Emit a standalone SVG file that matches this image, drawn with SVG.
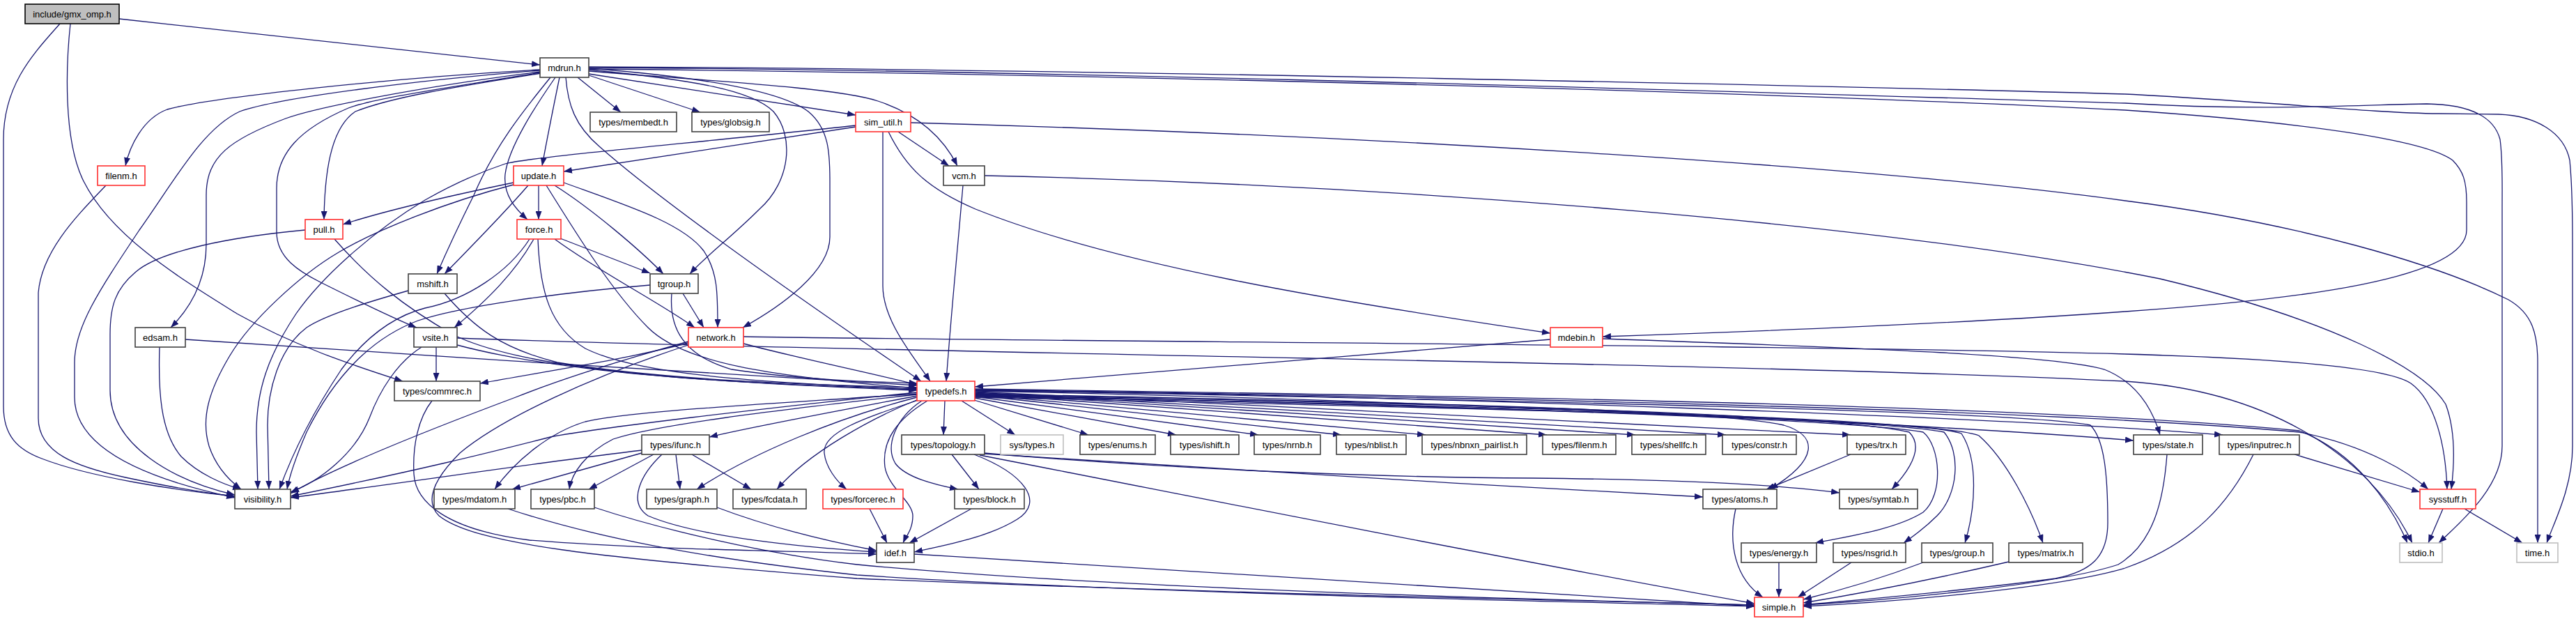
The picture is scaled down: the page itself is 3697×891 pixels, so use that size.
<svg xmlns="http://www.w3.org/2000/svg" width="3697" height="891" viewBox="0 0 3697 891">
<style>
.e path{fill:none;stroke:#191970;stroke-width:1.3;marker-end:url(#ah)}
.n rect{fill:#fff;stroke:#404040;stroke-width:1.6}
.r rect{fill:#fff;stroke:#ff3030;stroke-width:1.6}
.g rect{fill:#fff;stroke:#bfbfbf;stroke-width:1.6}
.root rect{fill:#bfbfbf;stroke:#000;stroke-width:1.6}
text{font-family:"Liberation Sans",Arial,sans-serif;font-size:13px;fill:#000;text-anchor:middle}
</style>
<defs>
<marker id="ah" viewBox="0 0 12 9" refX="12" refY="4.5" markerWidth="12" markerHeight="9" markerUnits="userSpaceOnUse" orient="auto"><path d="M0,0 L12,4.5 L0,9 Z" fill="#191970"/></marker>
</defs>
<rect width="3697" height="891" fill="#fff"/>
<g id="edges" class="e">
<path d="M171,27 L775,93"/>
<path d="M86,34 C50,75 5,120 5,200 L5,583 C5,625 25,645 60,658 C130,685 250,703 337,712"/>
<path d="M101,34 C95,90 90,200 120,260 C160,340 260,400 340,450 C420,495 500,522 578,547"/>
<path d="M775,100 C560,112 300,140 240,157 C205,170 186,210 180,238"/>
<path d="M775,101 C600,115 400,140 344,160 C290,185 250,260 200,330 C140,420 107,470 107,520 L107,570 C107,640 200,685 337,714"/>
<path d="M775,103 C600,125 450,155 410,170 C330,200 296,225 296,280 L296,350 C296,400 275,440 245,470"/>
<path d="M776,104 C650,125 540,140 500,155 C430,185 397,220 397,270 L397,333 C397,370 430,390 460,405 C510,430 560,455 598,470"/>
<path d="M777,105 C650,125 560,140 510,160 C480,180 466,230 465,315"/>
<path d="M803,111 C795,150 785,200 778,238"/>
<path d="M797,111 C770,150 730,210 725,250 C722,280 740,300 757,315"/>
<path d="M790,111 C750,160 710,210 680,280 C655,330 637,370 627,393"/>
<path d="M829,111 L891,161"/>
<path d="M845,108 L1005,161"/>
<path d="M845,106 L1228,165"/>
<path d="M845,102 C1000,115 1200,125 1260,145 C1320,165 1355,200 1374,238"/>
<path d="M845,100 C1000,115 1080,130 1110,160 C1140,195 1135,260 1090,300 C1050,340 1010,370 990,393"/>
<path d="M845,98 C1000,110 1120,130 1160,160 C1190,185 1191,220 1191,260 L1191,340 C1191,390 1120,440 1066,470"/>
<path d="M812,111 C815,150 825,180 860,210 C950,290 1150,430 1322,547"/>
<path d="M845,99 C1500,105 2500,130 3050,158 C3300,175 3480,200 3520,230 C3535,245 3540,260 3540,290 L3540,330 C3540,400 3300,430 3050,447 C2800,465 2450,478 2300,483"/>
<path d="M845,97 C1500,100 2600,135 3050,148 C3250,160 3400,150 3483,149 C3550,150 3580,170 3588,200 C3592,230 3591,260 3591,300 L3591,640 C3591,700 3530,750 3500,779"/>
<path d="M845,96 C1500,98 2700,125 3050,135 C3250,145 3400,162 3500,163 L3586,164 C3640,166 3680,190 3688,230 C3691,260 3692,300 3692,350 L3692,640 C3692,700 3665,750 3655,779"/>
<path d="M1228,182 L809,246"/>
<path d="M1228,180 C1000,205 760,225 725,235 C680,250 640,270 610,287 C530,335 460,400 425,450 C385,510 368,560 368,620 L370,702"/>
<path d="M1289,189 L1362,238"/>
<path d="M1267,189 L1267,410 C1267,460 1310,510 1335,547"/>
<path d="M1275,189 C1300,240 1330,270 1400,300 C1600,380 1900,430 2225,478"/>
<path d="M1307,176 C2000,195 2700,240 3050,288 C3300,320 3500,380 3600,430 C3635,450 3642,480 3642,520 L3642,779"/>
<path d="M737,262 C650,280 560,300 492,322"/>
<path d="M737,265 C640,290 540,330 486,362 C430,395 360,460 330,510 C300,560 288,600 300,640 C310,670 330,690 346,702"/>
<path d="M773,266 L773,315"/>
<path d="M758,266 C720,310 670,360 638,393"/>
<path d="M796,266 C850,300 920,360 952,393"/>
<path d="M809,262 C900,295 980,320 1010,360 C1030,390 1030,420 1030,470"/>
<path d="M784,266 C830,340 880,420 930,470 C980,520 1100,540 1316,557"/>
<path d="M804,342 L933,392"/>
<path d="M796,343 C860,390 940,430 997,470"/>
<path d="M766,343 C740,390 700,430 652,470"/>
<path d="M772,343 C775,420 790,470 840,500 C920,540 1100,548 1316,559"/>
<path d="M760,343 C730,390 670,430 610,442 C560,455 520,490 490,530 C450,590 420,650 401,702"/>
<path d="M438,330 C330,340 230,360 195,390 C165,415 158,440 158,480 L158,560 C158,640 250,690 337,710"/>
<path d="M480,343 C530,400 580,440 650,480 C750,530 1000,550 1316,558"/>
<path d="M586,417 C540,430 470,450 440,470 C400,500 384,560 384,610 L386,702"/>
<path d="M638,421 C680,470 720,500 800,520 C950,545 1150,552 1316,556"/>
<path d="M964,421 C960,470 980,510 1050,530 C1150,545 1250,548 1317,550"/>
<path d="M980,421 L1010,470"/>
<path d="M933,409 C800,420 660,440 600,460 C520,490 470,560 440,620 C425,655 415,685 412,702"/>
<path d="M605,498 C570,520 545,560 530,600 C510,650 460,690 417,706"/>
<path d="M626,498 L626,547"/>
<path d="M656,495 C750,520 900,545 1316,560"/>
<path d="M656,485 C1200,505 2500,520 3050,547 C3250,560 3400,650 3462,779"/>
<path d="M988,492 C900,515 800,530 689,550"/>
<path d="M988,490 C880,520 790,550 740,570 C620,615 480,670 417,708"/>
<path d="M1067,493 C1150,515 1250,535 1316,552"/>
<path d="M1067,483 C1500,490 2600,495 3050,508 C3300,515 3430,530 3460,550 C3495,575 3510,640 3512,702"/>
<path d="M988,495 C850,540 720,600 660,650 C620,690 610,720 630,740 C680,780 850,800 1230,830 C1700,850 2200,860 2518,868"/>
<path d="M229,498 C227,560 230,620 260,655 C285,680 320,695 346,702"/>
<path d="M266,487 C600,510 1000,535 1316,553"/>
<path d="M152,266 C110,310 60,360 55,420 L55,600 C55,650 110,670 180,685 C250,700 300,708 337,712"/>
<path d="M620,575 C600,600 592,640 594,680 C596,720 640,760 760,775 C950,790 1150,790 1258,795"/>
<path d="M1382,266 C1375,350 1365,450 1358,547"/>
<path d="M1413,252 C2000,265 2700,320 3100,400 C3350,460 3480,530 3510,580 C3525,620 3522,670 3518,702"/>
<path d="M2225,487 C2000,505 1700,530 1399,555"/>
<path d="M2300,486 C2700,500 2950,510 3020,530 C3070,550 3090,590 3100,624"/>
<path d="M1356,575 L1354,624"/>
<path d="M1380,575 L1457,624"/>
<path d="M1398,574 L1562,624"/>
<path d="M1399,571 L1688,624"/>
<path d="M1399,569 L1806,624"/>
<path d="M1399,567 L1925,624"/>
<path d="M1399,566 L2046,624"/>
<path d="M1399,565 L2220,624"/>
<path d="M1399,564 L2347,624"/>
<path d="M1399,563 L2477,624"/>
<path d="M1399,562 L2656,624"/>
<path d="M1399,561 C2000,572 2800,610 3062,632"/>
<path d="M1399,560 C2000,566 2900,600 3190,624"/>
<path d="M1399,559 C2100,570 2900,585 3300,620 C3400,640 3460,680 3485,702"/>
<path d="M1399,558 C2100,568 2900,580 3300,618 C3380,650 3430,720 3455,779"/>
<path d="M1399,565 C1900,575 2450,585 2560,610 C2610,625 2610,660 2540,702"/>
<path d="M1399,566 C2000,578 2600,590 2740,620 C2760,640 2745,670 2715,702"/>
<path d="M1399,567 C2000,580 2650,600 2760,620 C2785,640 2790,710 2760,735 C2720,760 2650,770 2605,779"/>
<path d="M1399,568 C2000,580 2700,600 2790,620 C2815,650 2810,710 2780,740 C2760,760 2745,770 2732,779"/>
<path d="M1399,569 C2100,580 2750,600 2815,622 C2840,660 2835,730 2820,779"/>
<path d="M1399,570 C2100,585 2780,600 2840,625 C2880,660 2915,730 2932,779"/>
<path d="M1399,560 C2200,575 2900,590 3000,610 C3020,630 3025,680 3025,750 C3025,800 3000,820 2950,830 C2800,850 2650,862 2588,868"/>
<path d="M1331,575 C1290,600 1265,630 1270,670 C1275,700 1310,720 1310,740 C1310,760 1300,770 1296,779"/>
<path d="M1323,575 C1285,600 1270,640 1285,665 C1300,685 1340,695 1375,702"/>
<path d="M1316,568 C1200,590 1080,612 1018,627"/>
<path d="M1316,565 C1100,580 900,590 840,605 C790,620 740,660 710,702"/>
<path d="M1316,566 C1100,590 940,610 880,630 C840,650 820,680 817,702"/>
<path d="M1316,570 C1200,600 1080,650 1000,702"/>
<path d="M1318,573 C1250,600 1160,650 1115,702"/>
<path d="M1318,574 C1240,600 1180,620 1183,650 C1185,670 1200,690 1215,702"/>
<path d="M1316,563 C1100,585 850,615 790,627 C700,650 600,675 417,712"/>
<path d="M921,646 C800,660 600,690 417,714"/>
<path d="M921,650 L735,702"/>
<path d="M938,652 L845,702"/>
<path d="M970,652 L976,702"/>
<path d="M993,652 L1078,702"/>
<path d="M950,652 C920,680 900,720 930,740 C1000,770 1150,785 1258,792"/>
<path d="M729,730 C850,770 1000,800 1230,825 C1600,850 2200,862 2518,870"/>
<path d="M853,728 C950,760 1100,795 1230,810 C1600,845 2200,860 2518,868"/>
<path d="M1029,728 C1100,755 1180,775 1258,790"/>
<path d="M1366,652 L1405,702"/>
<path d="M1398,652 C1470,680 1500,720 1460,745 C1420,770 1360,782 1312,792"/>
<path d="M1412,651 C1700,670 2100,695 2444,713"/>
<path d="M1412,650 C1700,675 2000,685 2200,686 C2400,688 2550,695 2640,707"/>
<path d="M1406,653 C1700,710 2200,810 2518,866"/>
<path d="M1394,730 L1305,779"/>
<path d="M1248,730 L1273,779"/>
<path d="M1312,795 C1800,825 2300,855 2518,870"/>
<path d="M2491,730 C2480,780 2490,830 2530,857"/>
<path d="M2656,652 L2535,702"/>
<path d="M2553,807 L2553,857"/>
<path d="M2657,807 L2580,857"/>
<path d="M2760,807 C2700,830 2650,845 2588,860"/>
<path d="M2883,806 C2780,830 2680,850 2588,865"/>
<path d="M3110,652 C3105,720 3090,780 3040,810 C2950,840 2700,862 2588,868"/>
<path d="M3234,652 C3200,720 3150,780 3050,815 C2950,845 2700,865 2588,870"/>
<path d="M3293,652 L3473,706"/>
<path d="M3506,730 L3485,779"/>
<path d="M3537,730 L3620,779"/>
</g>
<g id="gmx_omp" class="root"><rect x="36" y="6" width="135" height="28"/><text x="103.5" y="24.5">include/gmx_omp.h</text></g>
<g id="mdrun" class="n"><rect x="775" y="83" width="70" height="28"/><text x="810" y="101.5">mdrun.h</text></g>
<g id="membedt" class="n"><rect x="847" y="161" width="124" height="28"/><text x="909" y="179.5">types/membedt.h</text></g>
<g id="globsig" class="n"><rect x="993" y="161" width="111" height="28"/><text x="1048.5" y="179.5">types/globsig.h</text></g>
<g id="sim_util" class="r"><rect x="1228" y="161" width="79" height="28"/><text x="1267.5" y="179.5">sim_util.h</text></g>
<g id="filenm" class="r"><rect x="140" y="238" width="68" height="28"/><text x="174" y="256.5">filenm.h</text></g>
<g id="update" class="r"><rect x="737" y="238" width="72" height="28"/><text x="773" y="256.5">update.h</text></g>
<g id="vcm" class="n"><rect x="1354" y="238" width="59" height="28"/><text x="1383.5" y="256.5">vcm.h</text></g>
<g id="pull" class="r"><rect x="438" y="315" width="54" height="28"/><text x="465" y="333.5">pull.h</text></g>
<g id="force" class="r"><rect x="742" y="315" width="63" height="28"/><text x="773.5" y="333.5">force.h</text></g>
<g id="mshift" class="n"><rect x="586" y="393" width="70" height="28"/><text x="621" y="411.5">mshift.h</text></g>
<g id="tgroup" class="n"><rect x="933" y="393" width="69" height="28"/><text x="967.5" y="411.5">tgroup.h</text></g>
<g id="edsam" class="n"><rect x="194" y="470" width="72" height="28"/><text x="230" y="488.5">edsam.h</text></g>
<g id="vsite" class="n"><rect x="594" y="470" width="62" height="28"/><text x="625" y="488.5">vsite.h</text></g>
<g id="network" class="r"><rect x="988" y="470" width="79" height="28"/><text x="1027.5" y="488.5">network.h</text></g>
<g id="mdebin" class="r"><rect x="2225" y="470" width="75" height="28"/><text x="2262.5" y="488.5">mdebin.h</text></g>
<g id="commrec" class="n"><rect x="566" y="547" width="123" height="28"/><text x="627.5" y="565.5">types/commrec.h</text></g>
<g id="typedefs" class="r"><rect x="1316" y="547" width="83" height="28"/><text x="1357.5" y="565.5">typedefs.h</text></g>
<g id="ifunc" class="n"><rect x="921" y="624" width="97" height="28"/><text x="969.5" y="642.5">types/ifunc.h</text></g>
<g id="topology" class="n"><rect x="1294" y="624" width="119" height="28"/><text x="1353.5" y="642.5">types/topology.h</text></g>
<g id="systypes" class="g"><rect x="1436" y="624" width="90" height="28"/><text x="1481" y="642.5">sys/types.h</text></g>
<g id="enums" class="n"><rect x="1550" y="624" width="108" height="28"/><text x="1604" y="642.5">types/enums.h</text></g>
<g id="ishift" class="n"><rect x="1680" y="624" width="98" height="28"/><text x="1729" y="642.5">types/ishift.h</text></g>
<g id="nrnb" class="n"><rect x="1800" y="624" width="95" height="28"/><text x="1847.5" y="642.5">types/nrnb.h</text></g>
<g id="nblist" class="n"><rect x="1918" y="624" width="100" height="28"/><text x="1968" y="642.5">types/nblist.h</text></g>
<g id="nbnxn" class="n"><rect x="2041" y="624" width="150" height="28"/><text x="2116" y="642.5">types/nbnxn_pairlist.h</text></g>
<g id="tfilenm" class="n"><rect x="2214" y="624" width="105" height="28"/><text x="2266.5" y="642.5">types/filenm.h</text></g>
<g id="shellfc" class="n"><rect x="2342" y="624" width="106" height="28"/><text x="2395" y="642.5">types/shellfc.h</text></g>
<g id="constr" class="n"><rect x="2472" y="624" width="106" height="28"/><text x="2525" y="642.5">types/constr.h</text></g>
<g id="trx" class="n"><rect x="2651" y="624" width="84" height="28"/><text x="2693" y="642.5">types/trx.h</text></g>
<g id="state" class="n"><rect x="3062" y="624" width="99" height="28"/><text x="3111.5" y="642.5">types/state.h</text></g>
<g id="inputrec" class="n"><rect x="3185" y="624" width="115" height="28"/><text x="3242.5" y="642.5">types/inputrec.h</text></g>
<g id="visibility" class="n"><rect x="337" y="702" width="80" height="28"/><text x="377" y="720.5">visibility.h</text></g>
<g id="mdatom" class="n"><rect x="623" y="702" width="116" height="28"/><text x="681" y="720.5">types/mdatom.h</text></g>
<g id="pbc" class="n"><rect x="762" y="702" width="91" height="28"/><text x="807.5" y="720.5">types/pbc.h</text></g>
<g id="graph" class="n"><rect x="928" y="702" width="101" height="28"/><text x="978.5" y="720.5">types/graph.h</text></g>
<g id="fcdata" class="n"><rect x="1052" y="702" width="105" height="28"/><text x="1104.5" y="720.5">types/fcdata.h</text></g>
<g id="forcerec" class="r"><rect x="1181" y="702" width="115" height="28"/><text x="1238.5" y="720.5">types/forcerec.h</text></g>
<g id="block" class="n"><rect x="1370" y="702" width="100" height="28"/><text x="1420" y="720.5">types/block.h</text></g>
<g id="atoms" class="n"><rect x="2444" y="702" width="106" height="28"/><text x="2497" y="720.5">types/atoms.h</text></g>
<g id="symtab" class="n"><rect x="2640" y="702" width="112" height="28"/><text x="2696" y="720.5">types/symtab.h</text></g>
<g id="sysstuff" class="r"><rect x="3473" y="702" width="80" height="28"/><text x="3513" y="720.5">sysstuff.h</text></g>
<g id="idef" class="n"><rect x="1258" y="779" width="54" height="28"/><text x="1285" y="797.5">idef.h</text></g>
<g id="energy" class="n"><rect x="2499" y="779" width="108" height="28"/><text x="2553" y="797.5">types/energy.h</text></g>
<g id="nsgrid" class="n"><rect x="2631" y="779" width="104" height="28"/><text x="2683" y="797.5">types/nsgrid.h</text></g>
<g id="group" class="n"><rect x="2758" y="779" width="102" height="28"/><text x="2809" y="797.5">types/group.h</text></g>
<g id="matrix" class="n"><rect x="2883" y="779" width="106" height="28"/><text x="2936" y="797.5">types/matrix.h</text></g>
<g id="stdio" class="g"><rect x="3444" y="779" width="61" height="28"/><text x="3474.5" y="797.5">stdio.h</text></g>
<g id="time" class="g"><rect x="3612" y="779" width="59" height="28"/><text x="3641.5" y="797.5">time.h</text></g>
<g id="simple" class="r"><rect x="2518" y="857" width="70" height="28"/><text x="2553" y="875.5">simple.h</text></g>
</svg>
